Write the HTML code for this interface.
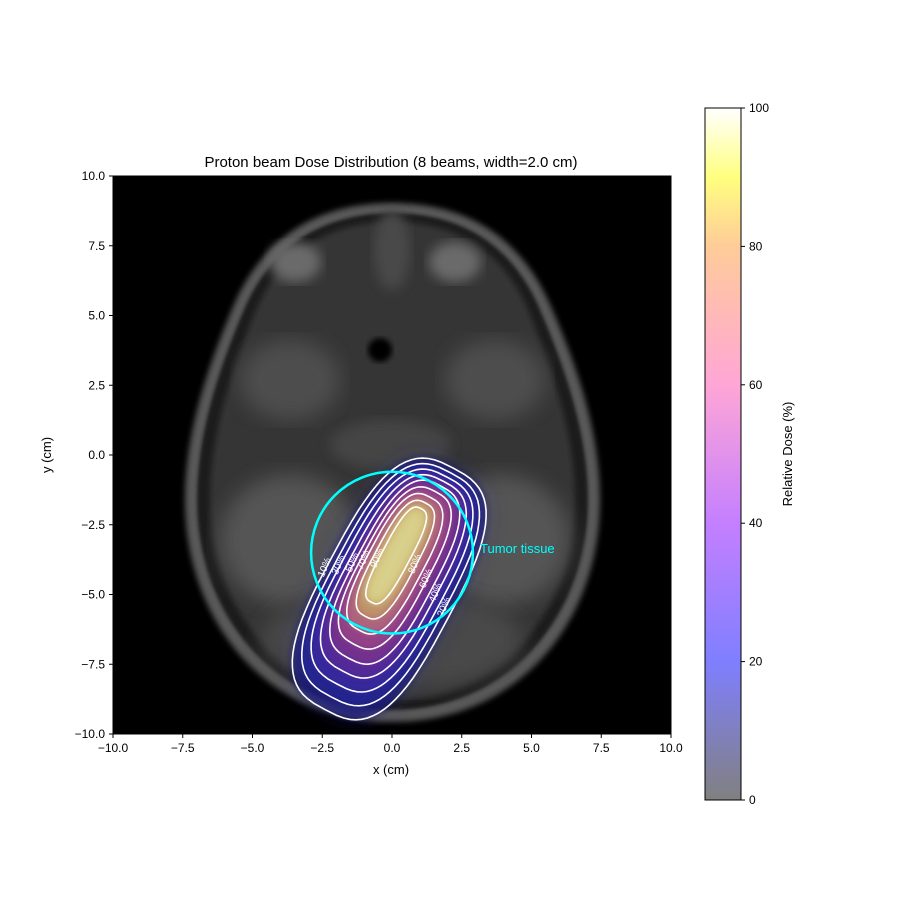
<!DOCTYPE html>
<html><head><meta charset="utf-8"><style>
body{margin:0;background:#fff;font-family:"Liberation Sans",sans-serif}
svg text{font-family:"Liberation Sans",sans-serif}
</style></head><body>
<svg id="chart" width="900" height="900" viewBox="0 0 900 900">
<defs>
<filter id="blur6"><feGaussianBlur stdDeviation="6"/></filter>
<filter id="blur3"><feGaussianBlur stdDeviation="3"/></filter>
<filter id="blur2"><feGaussianBlur stdDeviation="1.5"/></filter>
<filter id="blur10"><feGaussianBlur stdDeviation="10"/></filter>
<linearGradient id="cmap" x1="0" y1="1" x2="0" y2="0">
<stop offset="0" stop-color="#808080"/><stop offset="0.2" stop-color="#7f7fff"/>
<stop offset="0.4" stop-color="#c47fff"/><stop offset="0.6" stop-color="#ffa6d6"/>
<stop offset="0.8" stop-color="#ffcc99"/><stop offset="0.9" stop-color="#ffff7f"/>
<stop offset="1" stop-color="#ffffff"/></linearGradient>
<clipPath id="plotclip"><rect x="113" y="176" width="558" height="558"/></clipPath>
</defs>
<text x="391" y="167" text-anchor="middle" font-size="15">Proton beam Dose Distribution (8 beams, width=2.0 cm)</text>
<g clip-path="url(#plotclip)">
<rect x="113" y="176" width="558" height="558" fill="#000"/>
<g>
<path d="M392 203 C470 203 520 240 548 300 C575 360 600 430 600 500 C600 620 520 722 392 722 C265 722 185 620 185 500 C185 430 210 360 236 300 C264 240 314 203 392 203Z" fill="#585858" filter="url(#blur3)"/>
<path d="M392 213 C465 213 512 248 538 305 C564 365 588 432 588 500 C588 612 512 710 392 710 C272 710 197 612 197 500 C197 432 220 365 246 305 C272 248 320 213 392 213Z" fill="#1e1e1e" filter="url(#blur2)"/>
<path d="M392 222 C460 222 505 255 528 310 C552 368 575 435 575 500 C575 605 505 700 392 700 C280 700 210 605 210 500 C210 435 232 368 256 310 C280 255 325 222 392 222Z" fill="#363636" filter="url(#blur3)"/>
<ellipse cx="295" cy="262" rx="26" ry="20" fill="#6a6a6a" filter="url(#blur6)"/>
<ellipse cx="455" cy="262" rx="26" ry="20" fill="#6a6a6a" filter="url(#blur6)"/>
<ellipse cx="290" cy="380" rx="50" ry="40" fill="#4e4e4e" filter="url(#blur10)"/>
<ellipse cx="495" cy="380" rx="50" ry="40" fill="#4e4e4e" filter="url(#blur10)"/>
<ellipse cx="380" cy="350" rx="12" ry="12" fill="#050505" filter="url(#blur3)"/>
<ellipse cx="390" cy="445" rx="60" ry="25" fill="#444" filter="url(#blur6)"/>
<ellipse cx="290" cy="540" rx="70" ry="65" fill="#555" filter="url(#blur10)"/>
<ellipse cx="500" cy="540" rx="70" ry="65" fill="#555" filter="url(#blur10)"/>
<ellipse cx="392" cy="640" rx="130" ry="50" fill="#484848" filter="url(#blur10)"/>
<ellipse cx="392" cy="250" rx="18" ry="40" fill="#4a4a4a" filter="url(#blur6)"/>
</g>
<g id="dose"></g>
<g id="contours"></g>
<g id="tumor"></g>
</g>
<rect x="113" y="176" width="558" height="558" fill="none" stroke="#000"/>
<g id="xaxis"></g>
<g id="yaxis"></g>
<text x="391" y="774" text-anchor="middle" font-size="13">x (cm)</text>
<text transform="translate(51,455) rotate(-90)" text-anchor="middle" font-size="13">y (cm)</text>
<rect x="705" y="108" width="36" height="692" fill="url(#cmap)" stroke="#000"/>
<g id="cbaxis"></g>
<text transform="translate(792,454) rotate(-90)" text-anchor="middle" font-size="13">Relative Dose (%)</text>
</svg>
<script>
const xTicks=[-10,-7.5,-5,-2.5,0,2.5,5,7.5,10];
const yTicks=[-10,-7.5,-5,-2.5,0,2.5,5,7.5,10];
const cbTicks=[0,20,40,60,80,100];
const levels=[10,20,30,40,50,60,70,80,90];
const centerX=[-0.1,-0.05,0,0.05,0.1,0.1,0.1,0.12,0.15];
const centerY=[-4.8,-4.65,-4.5,-4.35,-4.2,-4.05,-3.9,-3.75,-3.6];
const semiMajor=[4.9,4.55,4.2,3.85,3.5,3.1,2.7,2.3,1.9];
const semiMinor=[2.35,2.12,1.9,1.67,1.45,1.22,1.0,0.75,0.5];
const beamAngle=62;
const tumor={x:0,y:-3.5,r:2.9};
const NS='http://www.w3.org/2000/svg';
const X=v=>392+v*27.9, Y=v=>455-v*27.9, CB=v=>800-v*6.92;
function mk(t,a,p){const e=document.createElementNS(NS,t);for(const k in a)e.setAttribute(k,a[k]);p.appendChild(e);return e;}
const xa=document.getElementById('xaxis'),ya=document.getElementById('yaxis'),cba=document.getElementById('cbaxis');
xTicks.forEach(v=>{mk('line',{x1:X(v),x2:X(v),y1:734,y2:738,stroke:'#000'},xa);
const t=mk('text',{x:X(v),y:752,'text-anchor':'middle','font-size':12},xa);t.textContent=(v<0?'\u2212':'')+Math.abs(v).toFixed(1);

});
yTicks.forEach(v=>{mk('line',{x1:109,x2:113,y1:Y(v),y2:Y(v),stroke:'#000'},ya);
const t=mk('text',{x:105,y:Y(v)+4,'text-anchor':'end','font-size':12},ya);t.textContent=(v<0?'\u2212':'')+Math.abs(v).toFixed(1);

});
cbTicks.forEach(v=>{mk('line',{x1:741,x2:745,y1:CB(v),y2:CB(v),stroke:'#000'},cba);
const t=mk('text',{x:749,y:CB(v)+4,'font-size':12},cba);t.textContent=v;

});
const fills=['#1a1a80','#28289a','#3c2aa0','#5e2c96','#80348a','#a04a86','#b8707a','#c4a060','#ccc060'];
const th=beamAngle*Math.PI/180;
function pt(i,u,w){return [centerX[i]+u*Math.cos(th)-w*Math.sin(th),centerY[i]+u*Math.sin(th)+w*Math.cos(th)];}
function shape(i){
 const a=semiMajor[i],b=semiMinor[i],p=3;let d='';
 for(let k=0;k<=72;k++){const t=k/72*2*Math.PI,c=Math.cos(t),s=Math.sin(t);
  const u=a*Math.sign(c)*Math.pow(Math.abs(c),2/p),w=b*Math.sign(s)*Math.pow(Math.abs(s),2/p);
  const q=pt(i,u,w);
  d+=(k?'L':'M')+X(q[0]).toFixed(1)+' '+Y(q[1]).toFixed(1);}
 return d+'Z';}
const dg=document.getElementById('dose'),cg=document.getElementById('contours');
mk('path',{d:shape(0),fill:'#2020a0',opacity:0.35,filter:'url(#blur10)'},dg);
levels.forEach((l,i)=>{const f=mk('path',{d:shape(i),fill:fills[i],opacity:0.72,filter:'url(#blur3)'},dg);

});
mk('path',{d:shape(8),fill:'#e8e8b0',opacity:0.55,filter:'url(#blur6)'},dg);
levels.forEach((l,i)=>{const c=mk('path',{d:shape(i),fill:'none',stroke:'#fff','stroke-width':1.6},cg);


const side=(i%2===0)?1:-1;
const q=pt(i,-0.3*side,side*semiMinor[i]);
const lx=X(q[0]),ly=Y(q[1])+3;
const t=mk('text',{x:lx,y:ly,'font-size':10,fill:'#fff','text-anchor':'middle',transform:`rotate(${-beamAngle-5} ${lx} ${ly})`},cg);
t.textContent=l+'%';

});
const tg=document.getElementById('tumor');
mk('circle',{cx:X(tumor.x),cy:Y(tumor.y),r:tumor.r*27.9,fill:'none',stroke:'#00ffff','stroke-width':2.5},tg);
const tl=mk('text',{x:480,y:553,'font-size':13,fill:'#00ffff'},tg);tl.textContent='Tumor tissue';


</script>
</body></html>
